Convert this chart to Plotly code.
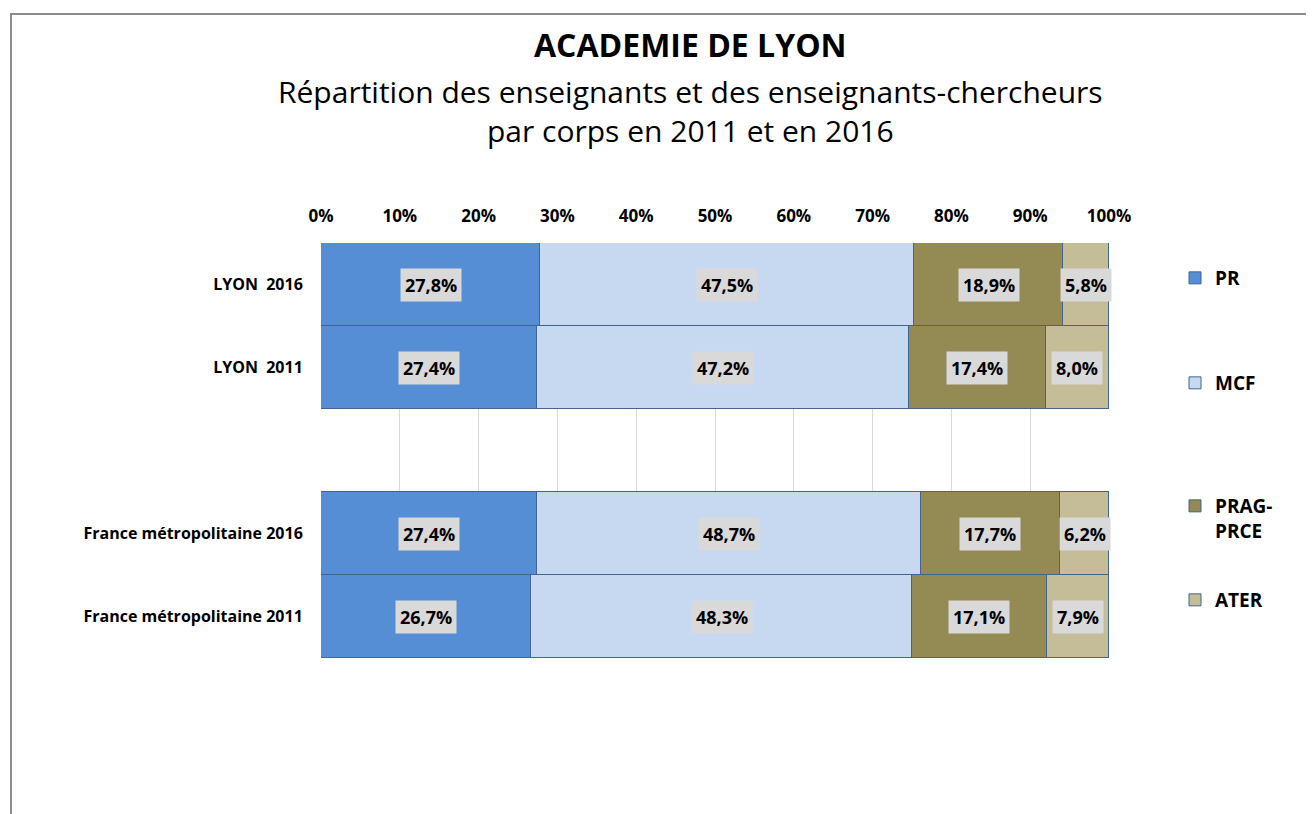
import plotly.graph_objects as go

categories = ["LYON\u00a0 2016", "LYON\u00a0 2011", " ", "France métropolitaine 2016", "France métropolitaine 2011"]
series_names = ["PR", "MCF", "PRAG-<br>PRCE", "ATER"]
pr = [27.8, 27.4, None, 27.4, 26.7]
mcf = [47.5, 47.2, None, 48.7, 48.3]
prag = [18.9, 17.4, None, 17.7, 17.1]
ater = [5.8, 8.0, None, 6.2, 7.9]
colors = ["#558ED5", "#C6D9F1", "#948A54", "#C4BD97"]
tick_vals = [0, 10, 20, 30, 40, 50, 60, 70, 80, 90, 100]
tick_text = [f"{v}%" for v in tick_vals]

FONT = "'Open Sans', sans-serif"
series = [pr, mcf, prag, ater]

# page offset (body margin) = 8px; work in screen coords
OFF = 8
W, H = 1314 - OFF, 814 - OFF
L, R, T, B = 321 - OFF, 1109 - OFF, 243 - OFF, 658 - OFF


def px(x):
    return (x - OFF - L) / (R - L)


def py(y):
    return (B - (y - OFF)) / (B - T)


legend_ids = ["legend", "legend2", "legend3", "legend4"]
legend_y = [259, 364, 487, 581]

fig = go.Figure()
for name, vals, col, lid in zip(series_names, series, colors, legend_ids):
    fig.add_trace(go.Bar(
        y=categories, x=vals, name=name, orientation="h",
        marker=dict(color=col, line=dict(color="#41658f", width=1)),
        legend=lid, showlegend=True, hoverinfo="skip",
    ))

annotations = []
for i, cat in enumerate(categories):
    cum = 0.0
    for vals in series:
        v = vals[i]
        if v is None:
            continue
        annotations.append(dict(
            x=cum + v / 2, y=cat, xref="x", yref="y",
            text=f"<b>{v:.1f}%</b>".replace(".", ","), showarrow=False,
            bgcolor="#D9D9D9", borderpad=4,
            font=dict(family=FONT, size=18, color="#000000"),
        ))
        cum += v

annotations.append(dict(x=px(690), y=py(45), xref="paper", yref="paper", yanchor="middle",
                        text="<b>ACADEMIE DE LYON</b>", showarrow=False,
                        font=dict(family=FONT, size=32, color="#000")))
annotations.append(dict(x=px(690), y=py(111), xref="paper", yref="paper", yanchor="middle",
                        text="Répartition des enseignants et des enseignants-chercheurs<br>par corps en 2011 et en 2016",
                        showarrow=False, font=dict(family=FONT, size=30, color="#000")))

layout_legends = {}
for lid, yy in zip(legend_ids, legend_y):
    layout_legends[lid] = dict(x=px(1175), y=py(yy), xanchor="left", yanchor="top", valign="top",
                               itemwidth=30,
                               font=dict(family=FONT, size=19, color="#000", weight="bold"),
                               bgcolor="rgba(0,0,0,0)")

fig.update_layout(
    barmode="stack", bargap=0, showlegend=True,
    width=W, height=H,
    margin=dict(l=L, r=W - R, t=T, b=H - B),
    paper_bgcolor="white", plot_bgcolor="white",
    font=dict(family=FONT, color="#000"),
    xaxis=dict(range=[0, 100], side="top", tickvals=tick_vals, ticktext=tick_text,
               showgrid=True, gridcolor="#D9D9D9", gridwidth=1, zeroline=False,
               ticks="outside", ticklen=13, tickcolor="rgba(0,0,0,0)",
               tickfont=dict(family=FONT, size=17, color="#000", weight="bold"),
               showline=False),
    yaxis=dict(categoryorder="array", categoryarray=categories, autorange="reversed",
               ticks="outside", ticklen=14, tickcolor="rgba(0,0,0,0)",
               tickfont=dict(family=FONT, size=16, color="#000", weight="bold"),
               showline=False, showgrid=False),
    annotations=annotations,
    shapes=[dict(type="rect", xref="paper", yref="paper",
                 x0=px(11), x1=px(1400), y0=py(900), y1=py(14),
                 line=dict(color="#8C8C8C", width=2), layer="below")],
    **layout_legends,
)

fig.write_html("out.html")
